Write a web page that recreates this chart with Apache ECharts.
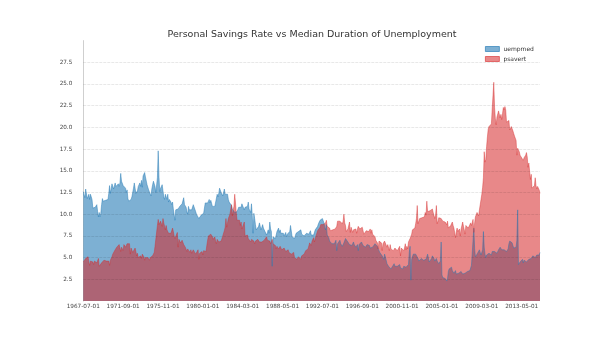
<!DOCTYPE html>
<html><head><meta charset="utf-8">
<script src="https://cdn.jsdelivr.net/npm/echarts@6/dist/echarts.min.js"></script>
<style>html,body{margin:0;padding:0;background:#fff}#c{width:600px;height:338px}</style>
</head><body><div id="c"></div>
<script>
// Monthly values from 1967-07 to 2015-04 (574 months), series named as in the reference legend
const uempmed = [
12.6,12.6,11.9,12.9,12.8,11.8,
11.7,12.3,11.7,12.3,12.0,11.7,10.7,10.5,10.6,10.8,10.6,11.1,
10.3,9.7,10.2,9.7,10.1,11.1,11.8,11.5,11.6,11.4,11.6,11.8,
11.8,11.7,12.4,13.3,12.4,12.3,13.5,13.4,12.9,13.1,13.6,13.2,
13.3,13.3,13.5,13.2,13.6,14.7,13.8,13.6,13.3,13.3,13.1,13.0,
12.5,12.8,11.8,11.5,11.7,11.7,11.7,12.0,12.2,13.0,13.6,13.7,
12.4,12.5,12.7,13.2,13.2,13.6,13.2,13.9,13.1,14.4,14.4,14.8,
14.3,14.2,13.4,13.1,12.8,12.8,12.8,12.1,12.9,13.4,13.8,14.0,
13.2,12.5,12.7,14.2,17.3,14.3,12.6,13.0,13.0,13.4,12.7,12.0,
11.7,12.3,12.2,11.7,12.3,11.4,11.7,11.7,11.4,11.1,11.4,10.6,
10.6,9.3,10.5,10.5,10.3,10.6,10.5,10.9,11.1,11.0,11.2,11.4,
11.9,11.1,11.0,10.8,10.3,10.0,10.9,10.5,10.6,10.7,10.5,10.4,
11.1,11.1,11.2,10.3,10.0,9.8,9.8,9.5,9.6,9.6,9.9,10.1,
9.9,10.1,10.2,11.3,11.4,11.2,11.3,11.3,11.7,11.3,11.6,11.4,
10.9,10.8,10.8,10.9,11.0,10.8,12.3,12.0,12.4,13.0,13.2,12.5,
12.7,12.1,12.2,12.9,12.3,12.3,12.5,12.3,11.7,11.4,11.3,11.3,
11.0,10.6,10.4,10.5,10.2,10.0,10.1,10.3,10.5,10.8,10.9,11.0,
10.8,11.2,11.3,11.1,10.5,10.8,11.0,10.6,10.9,11.4,10.6,10.8,
10.2,11.2,9.9,7.8,10.1,9.5,8.8,8.2,8.0,8.4,8.6,9.0,
8.6,8.2,8.5,8.8,8.4,8.2,8.0,7.9,7.6,7.9,8.2,7.8,
9.1,8.3,8.0,4.0,7.4,7.6,7.5,7.2,7.6,8.0,7.8,8.4,
7.9,8.2,7.8,7.6,7.7,7.8,7.5,7.6,7.9,7.4,7.7,7.8,
7.9,8.0,8.7,8.9,7.4,7.5,7.6,7.2,7.5,7.8,7.9,7.6,
8.0,7.8,7.9,8.2,7.7,7.8,7.6,7.5,7.6,7.4,7.8,7.7,
7.9,7.7,7.8,8.1,7.6,7.5,7.4,7.6,7.7,8.2,8.0,8.3,
8.6,8.9,9.0,9.3,9.2,9.4,9.5,9.3,9.0,8.5,8.2,8.8,
7.6,7.4,7.3,6.9,7.0,6.7,6.6,6.4,6.5,6.6,6.7,7.0,
5.8,6.6,6.4,6.5,7.0,6.6,6.5,6.3,6.4,6.7,6.9,7.2,
7.2,7.0,6.8,6.6,6.5,6.6,6.7,6.4,6.5,6.8,6.5,6.6,
6.2,6.4,6.5,5.8,6.5,6.7,6.5,6.8,6.9,6.4,6.4,6.3,
6.2,6.3,6.5,6.4,6.6,6.4,6.1,5.9,6.0,6.2,6.3,6.1,
6.6,6.8,6.5,6.3,6.0,5.8,5.6,5.7,5.4,5.2,5.1,4.8,
5.4,5.1,4.9,4.3,4.1,4.0,3.9,3.9,3.7,3.9,4.0,3.8,
4.3,4.0,3.8,4.2,4.0,4.1,4.2,4.2,3.8,3.9,3.9,3.7,
4.0,4.2,4.1,3.9,3.8,3.9,4.2,5.6,6.3,2.4,4.8,5.0,
5.4,5.3,5.2,5.4,5.5,5.3,4.9,4.6,4.8,4.7,4.9,5.0,
4.8,4.7,4.9,4.6,4.8,4.9,5.4,5.2,4.5,4.6,4.7,4.9,
5.2,5.0,4.9,4.6,4.7,4.9,4.6,4.4,4.3,4.4,4.6,6.8,
3.0,2.7,2.6,2.5,2.6,2.4,2.3,2.6,3.4,3.7,3.6,3.8,
3.9,3.5,3.4,3.2,3.3,3.5,3.1,3.0,3.1,3.2,3.3,3.1,
3.4,3.3,3.1,3.0,3.2,3.2,3.1,3.3,3.4,3.2,3.3,3.5,
3.8,4.1,4.0,4.2,8.4,6.0,5.1,5.2,5.4,5.6,5.5,5.9,
5.6,5.3,5.5,5.9,8.0,6.2,5.4,5.0,5.3,5.4,5.3,5.5,
5.6,5.5,5.3,5.7,5.8,5.9,5.7,5.6,5.8,5.5,5.6,5.9,
6.0,6.2,6.1,5.9,6.0,6.1,5.9,5.8,5.9,5.7,5.8,6.0,
6.6,6.9,6.8,7.0,6.7,6.4,6.1,6.0,5.9,6.2,7.0,10.5,
4.2,4.4,4.5,4.7,4.6,4.8,4.4,4.7,4.8,4.6,4.5,4.4,
4.6,4.8,4.9,4.8,4.9,5.0,5.2,5.0,5.1,5.0,5.2,5.3,
5.1,5.4,5.3,5.6
];
const psavert = [
4.5,4.7,4.6,4.9,4.7,4.8,
5.1,4.5,4.1,4.6,4.4,4.4,4.5,4.2,4.6,4.8,4.4,4.4,
4.4,4.9,4.0,4.0,4.2,4.4,4.4,4.4,4.7,4.5,4.8,4.6,
4.6,4.5,4.6,4.1,4.7,4.9,5.1,5.4,5.2,5.6,5.9,5.9,
6.2,6.3,6.4,6.5,6.7,5.7,6.2,6.4,5.8,6.5,6.4,6.2,
6.2,6.6,6.6,6.7,6.6,5.4,6.1,6.0,5.6,5.7,5.7,6.1,
5.7,5.2,5.5,5.0,4.9,5.0,5.2,4.9,5.4,5.5,5.1,4.7,
5.0,5.1,4.8,5.0,5.1,4.7,5.0,5.1,5.1,5.2,5.2,5.6,
6.3,7.1,7.2,8.7,9.4,8.8,8.6,9.2,9.2,8.6,9.5,9.0,
9.0,8.2,8.7,8.2,8.3,7.8,7.7,7.9,7.8,7.7,8.4,8.0,
7.5,7.2,7.2,7.3,7.9,6.2,7.1,7.0,6.7,6.9,7.0,6.8,
6.5,6.7,6.2,6.1,5.7,6.0,5.8,5.8,5.6,5.9,5.5,5.6,
5.9,5.9,5.9,5.4,5.6,5.6,5.9,4.8,5.5,5.5,5.3,5.7,
5.3,5.8,6.0,5.8,5.7,6.4,7.0,7.5,7.7,7.5,7.7,7.5,
7.4,7.1,7.1,7.4,6.9,6.6,7.1,7.2,6.8,6.8,6.9,6.9,
7.1,7.5,7.7,8.1,8.5,9.5,8.5,8.7,9.5,9.7,10.0,10.2,
11.1,9.8,10.4,10.9,12.3,11.3,10.1,9.3,9.3,9.4,9.3,8.7,
9.1,8.3,8.3,8.2,9.1,7.5,7.5,7.3,7.6,7.2,7.2,7.3,
6.8,7.1,7.1,6.9,6.9,6.6,6.9,7.1,6.9,7.1,7.0,6.8,
6.7,6.9,6.8,6.7,6.8,7.0,6.9,7.1,7.4,7.0,7.1,7.1,
6.9,6.6,6.6,7.1,6.6,6.5,6.5,6.4,6.0,6.3,6.2,6.0,
6.2,6.3,6.4,5.9,5.9,5.8,6.1,5.9,5.7,5.6,5.7,5.9,
5.6,5.4,5.4,5.4,5.3,5.4,5.6,5.0,4.9,4.9,4.8,4.9,
5.1,5.3,5.1,4.8,5.2,5.2,5.4,5.4,5.6,5.8,5.7,5.9,
6.0,6.2,6.7,6.6,6.4,6.9,7.0,7.3,6.8,7.2,7.5,7.8,
8.1,8.2,8.3,8.5,8.8,8.7,8.6,8.8,8.6,9.0,9.0,9.3,
8.6,8.5,8.5,8.4,8.1,8.3,8.2,8.2,8.3,8.0,8.3,8.3,
8.6,9.2,9.3,9.1,9.2,9.3,9.0,8.9,9.2,10.0,9.0,8.7,
8.0,8.1,8.3,8.3,9.1,7.9,8.5,8.3,7.9,8.2,8.0,8.3,
8.3,7.8,8.3,8.6,8.6,8.3,8.3,8.4,8.5,8.3,7.7,7.8,
7.8,8.1,7.9,8.3,8.0,8.0,8.3,7.8,8.2,7.7,7.6,7.5,
7.4,7.0,6.8,6.7,6.0,6.9,6.7,6.8,6.7,5.8,6.6,6.8,
6.9,6.8,6.8,6.2,6.5,6.3,5.8,6.5,6.0,6.1,6.2,5.8,
5.8,6.1,6.0,6.1,5.8,5.7,6.0,6.3,5.2,6.1,6.1,6.0,
5.8,6.1,6.6,5.9,6.3,6.0,6.8,6.9,7.2,7.3,7.7,8.2,
8.4,8.3,8.4,8.9,9.5,11.0,8.9,9.0,9.5,9.6,9.3,9.6,
9.6,9.5,9.7,10.2,9.9,11.5,10.3,10.1,10.2,10.4,10.3,10.4,
10.6,10.2,10.2,9.5,9.9,11.0,8.9,9.2,9.6,9.5,9.7,9.5,
9.4,9.2,9.3,9.0,9.1,9.0,8.8,9.2,8.4,8.6,8.5,8.7,
8.6,9.1,8.7,8.4,8.5,7.3,8.0,8.4,8.0,7.9,8.3,7.5,
8.3,8.5,9.1,8.6,8.2,7.7,8.7,8.8,8.7,8.4,8.6,8.4,
9.0,8.7,8.7,9.4,7.9,9.0,9.7,9.7,10.2,10.4,9.8,10.5,
10.7,11.7,12.3,13.1,14.2,17.2,16.0,16.3,17.8,18.9,19.8,20.1,
20.0,19.9,20.4,22.1,22.3,25.2,22.3,21.0,20.3,21.2,21.0,21.9,
21.5,21.1,21.5,20.9,21.6,22.3,22.0,22.4,22.0,20.6,20.8,20.5,
20.8,19.7,19.9,20.1,19.9,19.6,19.3,19.0,18.8,18.5,16.8,17.6,
17.6,17.2,16.8,16.9,16.5,16.6,16.2,16.5,16.5,16.8,17.1,16.6,
15.4,15.9,15.8,14.0,14.6,13.0,13.2,13.2,13.3,14.2,13.3,12.9,
13.2,13.4,12.8,12.4
];
// x tick labels (every 50th month) and their positions
const tickPositions = [0,50,100,150,200,250,300,350,400,450,500,550];
const tickLabels = ['1967-07-01','1971-09-01','1975-11-01','1980-01-01','1984-03-01','1988-05-01',
  '1992-07-01','1996-09-01','2000-11-01','2005-01-01','2009-03-01','2013-05-01'];
const gridValues = [2.5,5,7.5,10,12.5,15,17.5,20,22.5,25,27.5];

const chart = echarts.init(document.getElementById('c'), null, {renderer:'canvas'});
const FONT = 'DejaVu Sans';
const BLUE = 'rgba(31,119,180,0.58)', BLUE_EDGE = 'rgba(31,119,180,0.5)';
const RED = 'rgba(214,39,40,0.55)', RED_EDGE = 'rgba(214,39,40,0.45)';

chart.setOption({
  animation: false,
  backgroundColor: '#fff',
  textStyle: {fontFamily: FONT},
  title: {
    text: 'Personal Savings Rate vs Median Duration of Unemployment',
    left: 307, top: 25, textAlign: 'center',
    textStyle: {fontFamily: FONT, fontSize: 9.5, fontWeight: 'normal', color: '#333'}
  },
  legend: {
    orient: 'vertical', left: 480, top: 41, itemWidth: 14, itemHeight: 5, itemGap: 4,
    icon: 'rect',
    textStyle: {fontFamily: FONT, fontSize: 6, color: '#333', padding: [0,0,0,-1]},
    data: [
      {name: 'uempmed', itemStyle: {color: BLUE, borderColor: 'rgba(31,119,180,0.8)', borderWidth: 0.8}},
      {name: 'psavert', itemStyle: {color: RED, borderColor: 'rgba(214,39,40,0.75)', borderWidth: 0.8}}
    ]
  },
  grid: {left: 75.3, right: 60, top: 40.6, bottom: 37, containLabel: false},
  xAxis: {
    type: 'value', min: -10, max: 573,
    axisLine: {show: false}, axisTick: {show: false}, splitLine: {show: false},
    axisLabel: {
      customValues: tickPositions, margin: 3, fontSize: 5.7, color: '#444', fontFamily: FONT,
      formatter: v => tickLabels[tickPositions.indexOf(v)] || ''
    }
  },
  yAxis: {
    type: 'value', min: 0, max: 30, interval: 2.5,
    axisLine: {show: true, lineStyle: {color: '#cfcfcf', width: 1}},
    axisTick: {show: false}, splitLine: {show: false},
    axisLabel: {
      margin: 3, fontSize: 5.7, color: '#444', fontFamily: FONT,
      formatter: v => (v === 0 || v === 30) ? '' : v.toFixed(1)
    }
  },
  series: [
    {
      name: 'uempmed', type: 'line', showSymbol: false, symbol: 'none', silent: true,
      data: uempmed.map((v, i) => [i, v]),
      lineStyle: {color: BLUE_EDGE, width: 0.9},
      itemStyle: {color: BLUE},
      areaStyle: {color: BLUE, opacity: 1}
    },
    {
      name: 'psavert', type: 'line', showSymbol: false, symbol: 'none', silent: true,
      data: psavert.map((v, i) => [i, v]),
      lineStyle: {color: RED_EDGE, width: 0.9},
      itemStyle: {color: RED},
      areaStyle: {color: RED, opacity: 1},
      markLine: {
        silent: true, symbol: 'none', label: {show: false}, animation: false,
        lineStyle: {color: 'rgba(0,0,0,0.09)', width: 1, type: [3, 1]},
        data: gridValues.map(y => [{coord: [0, y]}, {coord: [573, y]}])
      }
    }
  ]
});
</script>
</body></html>
